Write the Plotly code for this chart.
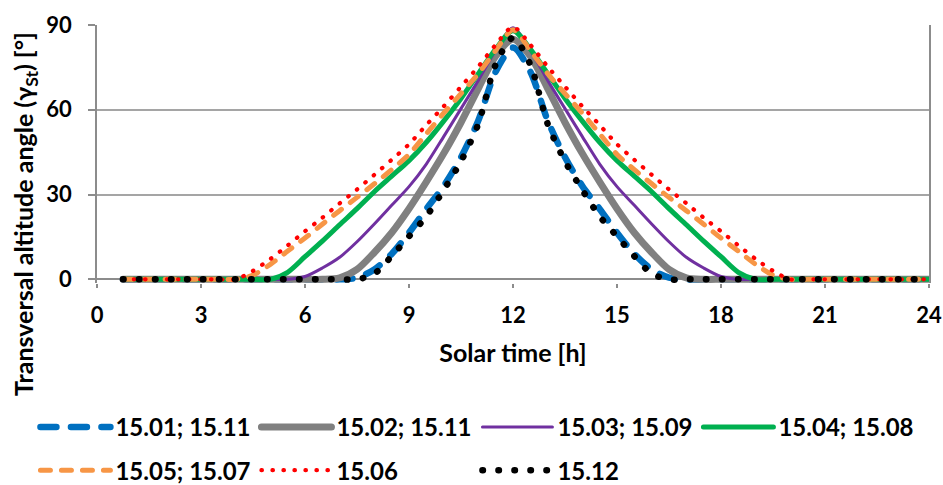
import plotly.graph_objects as go

# Solar time [h]
hours = [0.75, 1.0, 1.5, 2.0, 2.5, 3.0, 3.5, 4.0, 4.5, 5.0, 5.5, 6.0, 6.5, 7.0, 7.5, 8.0,
         8.5, 9.0, 9.5, 10.0, 10.5, 11.0, 11.5, 12.0, 12.5, 13.0, 13.5, 14.0, 14.5, 15.0,
         15.5, 16.0, 16.5, 17.0, 17.5, 18.0, 18.5, 19.0, 19.5, 20.0, 20.5, 21.0, 21.5,
         22.0, 22.5, 23.0, 23.5, 24.0]

# Transversal altitude angle [deg]
s_jan_nov = [0, 0, 0, 0, 0, 0, 0, 0, 0, 0, 0, 0, 0, 0,
             0.6, 3.5, 9.0, 16.5, 24.9, 33.0, 43.2, 56.2, 73.5, 82.0,
             73.5, 56.2, 43.2, 33.0, 24.9, 16.5, 9.0, 3.5, 0.6,
             0, 0, 0, 0, 0, 0, 0, 0, 0, 0, 0, 0, 0, 0, 0]
s_feb_nov = [0, 0, 0, 0, 0, 0, 0, 0, 0, 0, 0, 0, 0,
             0.5, 3.5, 9.5, 16.5, 25.0, 34.5, 44.5, 55.5, 67.5, 79.0, 85.0,
             79.0, 67.5, 55.5, 44.5, 34.5, 25.0, 16.5, 9.5, 3.5, 0.5,
             0, 0, 0, 0, 0, 0, 0, 0, 0, 0, 0, 0, 0, 0]
s_mar_sep = [0, 0, 0, 0, 0, 0, 0, 0, 0, 0, 0,
             1.0, 4.0, 7.8, 13.3, 19.6, 26.2, 32.8, 40.8, 50.5, 60.4, 70.4, 81.0, 89.0,
             81.0, 70.4, 60.4, 50.5, 40.8, 32.8, 26.2, 19.6, 13.3, 7.8, 4.0, 1.0,
             0, 0, 0, 0, 0, 0, 0, 0, 0, 0, 0, 0]
s_apr_aug = [0, 0, 0, 0, 0, 0, 0, 0, 0, 0,
             2.5, 8.0, 13.5, 19.3, 25.0, 31.0, 36.5, 42.0, 48.5, 56.0, 64.0, 72.8, 81.5, 88.0,
             81.5, 72.8, 64.0, 56.0, 48.5, 42.0, 36.5, 31.0, 25.0, 19.3, 13.5, 8.0, 2.5,
             0, 0, 0, 0, 0, 0, 0, 0, 0, 0, 0]
s_may_jul = [0, 0, 0, 0, 0, 0, 0, 0,
             1.5, 5.3, 10.0, 14.6, 19.5, 24.3, 29.0, 33.8, 38.8, 44.2, 51.5, 58.8, 65.7, 72.8, 81.0, 88.3,
             81.0, 72.8, 65.7, 58.8, 51.5, 44.2, 38.8, 33.8, 29.0, 24.3, 19.5, 14.6, 10.0, 5.3, 1.5,
             0, 0, 0, 0, 0, 0, 0, 0, 0]
s_jun = [0, 0, 0, 0, 0, 0, 0, 0,
         3.0, 7.2, 12.0, 17.0, 21.8, 26.9, 31.8, 37.0, 42.3, 47.8, 54.6, 61.2, 68.2, 75.3, 83.0, 89.3,
         83.0, 75.3, 68.2, 61.2, 54.6, 47.8, 42.3, 37.0, 31.8, 26.9, 21.8, 17.0, 12.0, 7.2, 3.0,
         0, 0, 0, 0, 0, 0, 0, 0, 0]
s_dec = [0, 0, 0, 0, 0, 0, 0, 0, 0, 0, 0, 0, 0, 0, 0,
         2.0, 8.2, 15.2, 22.3, 31.6, 41.8, 55.0, 76.0, 85.5,
         76.0, 55.0, 41.8, 31.6, 22.3, 15.2, 8.2, 2.0,
         0, 0, 0, 0, 0, 0, 0, 0, 0, 0, 0, 0, 0, 0, 0, 0]

names = ["15.01; 15.11", "15.02; 15.11", "15.03; 15.09", "15.04; 15.08",
         "15.05; 15.07", "15.06", "15.12"]

x_ticks = [0, 3, 6, 9, 12, 15, 18, 21, 24]
y_ticks = [0, 30, 60, 90]

FONT = "Lato"

styles = [
    dict(color="#0070C0", width=6.5, dash="16px,14.5px", legend="legend"),
    dict(color="#808080", width=7, dash="solid", legend="legend"),
    dict(color="#7030A0", width=3, dash="solid", legend="legend"),
    dict(color="#00B050", width=5, dash="solid", legend="legend"),
    dict(color="#F79646", width=5, dash="10px,11px", legend="legend2"),
    dict(color="#FF0000", width=4.2, dash="0.5px,10.5px", legend="legend2"),
    dict(color="#000000", width=6.5, dash="0.5px,15.5px", legend="legend2"),
]
series = [s_jan_nov, s_feb_nov, s_mar_sep, s_apr_aug, s_may_jul, s_jun, s_dec]

fig = go.Figure()
for name, ys, st in zip(names, series, styles):
    fig.add_trace(go.Scatter(
        x=hours, y=ys, name=name, mode="lines",
        line=dict(color=st["color"], width=st["width"], dash=st["dash"],
                  shape="spline", smoothing=0.8),
        legend=st["legend"],
    ))

legend_common = dict(
    orientation="h", xanchor="left", yanchor="middle",
    font=dict(family=FONT, size=24, color="#000000", weight="bold"),
    bgcolor="rgba(0,0,0,0)", itemwidth=70,
    entrywidth=136, entrywidthmode="pixels", itemclick=False, itemdoubleclick=False,
)

fig.update_layout(
    width=943, height=485,
    margin=dict(l=97, r=14, t=25, b=202, autoexpand=False),
    paper_bgcolor="white", plot_bgcolor="white",
    font=dict(family=FONT, size=22, color="#000000", weight="bold"),
    showlegend=True,
    legend=dict(x=-0.074, y=-0.56, **legend_common),
    legend2=dict(x=-0.074, y=-0.727, **legend_common),
    xaxis=dict(
        range=[0, 24], tickvals=x_ticks, ticktext=[str(v) for v in x_ticks],
        showgrid=False, zeroline=False, showline=False,
        ticks="outside", ticklen=4, tickwidth=1.5, tickcolor="#8C8C8C",
        ticklabelstandoff=9,
        tickfont=dict(family=FONT, size=22, color="#000000", weight="bold"),
        title=dict(text="Solar time [h]", standoff=17,
                   font=dict(family=FONT, size=25, color="#000000", weight="bold")),
    ),
    yaxis=dict(
        range=[-1.3, 90], tickvals=y_ticks, ticktext=[str(v) for v in y_ticks],
        showgrid=True, gridcolor="#A5A5A5", gridwidth=1.5,
        zeroline=True, zerolinecolor="#8C8C8C", zerolinewidth=1.5,
        showline=True, linecolor="#8C8C8C", linewidth=1.5, mirror=True,
        ticks="outside", ticklen=7, tickwidth=1.5, tickcolor="#8C8C8C",
        ticklabelstandoff=12,
        tickfont=dict(family=FONT, size=22, color="#000000", weight="bold"),
    ),
    annotations=[dict(
        text="Transversal altitude angle (γ<sub>St</sub>) [°]",
        xref="paper", yref="paper", x=-0.0865, y=0.268,
        xanchor="center", yanchor="middle", textangle=-90, showarrow=False,
        font=dict(family=FONT, size=25, color="#000000", weight="bold"),
    )],
)

page_fix = (
    "document.body.style.margin='0';document.body.style.padding='0';"
    "document.documentElement.style.overflow='hidden';"
    "var s=document.createElement('style');"
    "s.innerHTML='path.js-line{stroke-linecap:round;stroke-linejoin:round;}';"
    "document.head.appendChild(s);"
)
fig.write_html("out.html", post_script=page_fix, config={"displayModeBar": False})
